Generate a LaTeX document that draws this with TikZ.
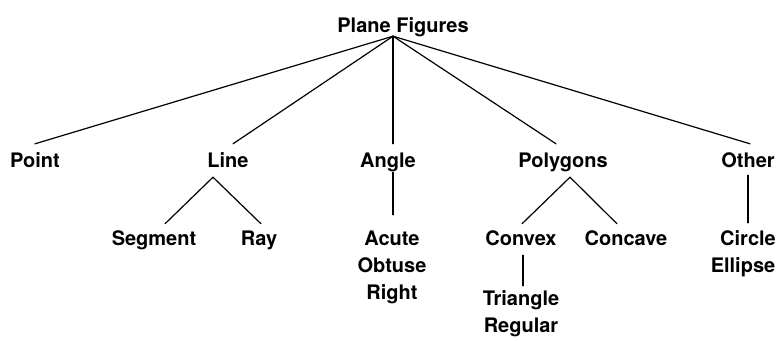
\documentclass[tikz,border=0pt]{standalone}
\usepackage{fontspec}
\setmainfont{TeX Gyre Heros}
\begin{document}
\begin{tikzpicture}[x=1pt,y=-1pt,
  lbl/.style={anchor=base,inner sep=0pt,text height=15pt,text depth=4pt,
    font=\fontsize{20}{24}\selectfont\bfseries},
  link/.style={line width=1.2pt,line cap=round}]
\useasboundingbox (0,0) rectangle (783,340);

% root
\node[lbl] (root) at (403,32) {Plane Figures};

% first level
\node[lbl] (point)    at (35,167)  {Point};
\node[lbl] (line)     at (228,167) {Line};
\node[lbl] (angle)    at (388,167) {Angle};
\node[lbl] (polygons) at (563,167) {Polygons};
\node[lbl] (other)    at (748,167) {Other};

% second level
\node[lbl] (segment) at (154,245) {Segment};
\node[lbl] (ray)     at (259,245) {Ray};
\node[lbl] (acute)   at (392,245) {Acute};
\node[lbl] (obtuse)  at (392,272) {Obtuse};
\node[lbl] (right)   at (392,299) {Right};
\node[lbl] (convex)  at (521,245) {Convex};
\node[lbl] (concave) at (626,245) {Concave};
\node[lbl] (circle)  at (748,245) {Circle};
\node[lbl] (ellipse) at (743,272) {Ellipse};

% third level
\node[lbl] (triangle) at (521,305) {Triangle};
\node[lbl] (regular)  at (521,332) {Regular};

% connectors from the root
\coordinate (hub) at ([xshift=-10pt]root.south);
\draw[link] (hub) -- ([yshift=8pt]point.north);
\draw[link] (hub) -- ([xshift=5pt,yshift=8pt]line.north);
\draw[link] (hub) -- ([xshift=5pt,yshift=8pt]angle.north);
\draw[link] (hub) -- ([xshift=-7pt,yshift=8pt]polygons.north);
\draw[link] (hub) -- ([xshift=2pt,yshift=8pt]other.north);

% Line branches
\draw[link] ([xshift=11pt,yshift=6pt]segment.north) -- ([xshift=-15pt,yshift=-6pt]line.south)
            -- ([xshift=2pt,yshift=6pt]ray.north);

% Angle branch
\draw[link] ([xshift=5pt,yshift=-1pt]angle.south) -- ([xshift=1pt,yshift=15pt]acute.north);

% Polygons branches
\draw[link] ([xshift=1pt,yshift=6pt]convex.north) -- ([xshift=7pt,yshift=-6pt]polygons.south)
            -- ([xshift=-9pt,yshift=6pt]concave.north);
\draw[link] ([xshift=2pt,yshift=-6pt]convex.south) -- ([xshift=2pt,yshift=4pt]triangle.north);

% Other branch
\draw[link] ([yshift=-4pt]other.south) -- ([yshift=7pt]circle.north);
\end{tikzpicture}
\end{document}
